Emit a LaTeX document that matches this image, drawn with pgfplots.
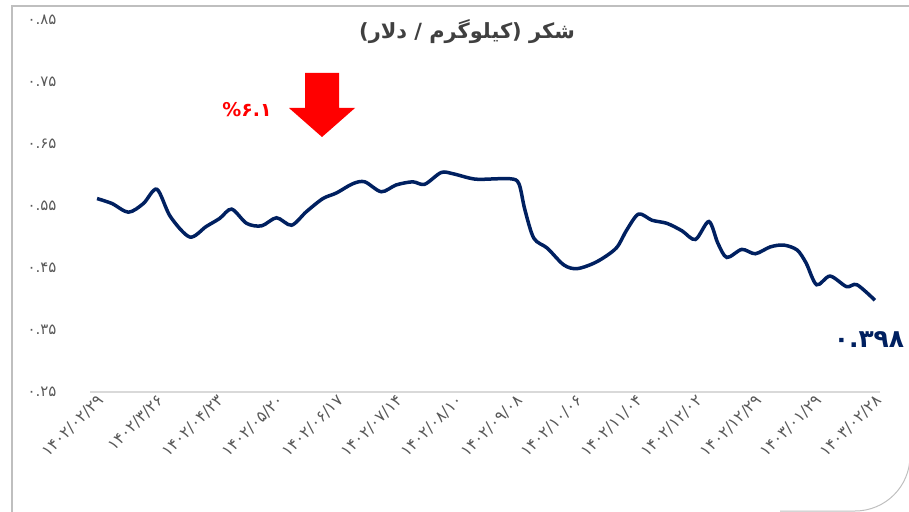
\documentclass[border=0pt]{standalone}
\usepackage{pgfplots}
\pgfplotsset{compat=1.18}
\usepackage{fontspec}
\setmainfont{DejaVu Sans}
\newfontfamily\arabicfont[Script=Arabic]{DejaVu Sans}
\TeXXeTstate=1
\definecolor{navy}{HTML}{002060}
\definecolor{lblgray}{HTML}{595959}
\definecolor{titlegray}{HTML}{404040}
\definecolor{framegray}{HTML}{BFBFBF}
\definecolor{axisgray}{HTML}{D9D9D9}

\begin{document}
\begin{tikzpicture}
\begin{scope}[x=1bp,y=-1bp]
  \useasboundingbox (0,0) rectangle (909,512);
  \begin{scope}
    \clip (0,0) rectangle (909,512);
    \draw[framegray, line width=1.5bp] (12,530) -- (12,6) -- (925,6);
    \draw[framegray, line width=1bp] (910,400) -- (910,456)
      .. controls (910,486.4) and (885.4,511) .. (855,511) -- (780,511);
  \end{scope}
  % title
  \node[font=\arabicfont\bfseries\fontsize{21}{22}\selectfont, text=titlegray]
    at (467,32) {\beginR شکر (کیلوگرم / دلار)\endR};
  % change annotation
  \fill[red] (305,73) -- (339,73) -- (339,108) -- (355,108) -- (322,137)
    -- (289,108) -- (305,108) -- cycle;
  \node[text=red, font=\bfseries\fontsize{19}{19}\selectfont] at (247,110) {\%۶.۱};
  \node[text=navy, font=\bfseries\fontsize{25}{25}\selectfont] at (869,340) {۰.۳۹۸};
\end{scope}

\begin{axis}[
  at={(90bp,-392bp)}, anchor=south west,
  scale only axis, width=790bp, height=372bp,
  xmin=-0.47, xmax=52.34, ymin=0.25, ymax=0.85,
  axis x line*=bottom, axis y line*=left,
  y axis line style={draw=none},
  x axis line style={axisgray, line width=1.2bp},
  major tick length=0pt,
  xtick={0,4,...,52},
  xticklabels={۱۴۰۲/۰۲/۲۹, ۱۴۰۲/۳/۲۶, ۱۴۰۲/۰۴/۲۳, ۱۴۰۲/۰۵/۲۰, ۱۴۰۲/۰۶/۱۷,
    ۱۴۰۲/۰۷/۱۴, ۱۴۰۲/۰۸/۱۰, ۱۴۰۲/۰۹/۰۸, ۱۴۰۲/۱۰/۰۶, ۱۴۰۲/۱۱/۰۴,
    ۱۴۰۲/۱۲/۰۲, ۱۴۰۲/۱۲/۲۹, ۱۴۰۳/۰۱/۲۹, ۱۴۰۳/۰۲/۲۸},
  ytick={0.25,0.35,0.45,0.55,0.65,0.75,0.85},
  yticklabels={۰.۲۵, ۰.۳۵, ۰.۴۵, ۰.۵۵, ۰.۶۵, ۰.۷۵, ۰.۸۵},
  ticklabel style={text=lblgray},
  yticklabel style={font=\fontsize{15}{15}\selectfont, anchor=east, xshift=-30bp},
  xticklabel style={font=\fontsize{16}{16}\selectfont, rotate=45, anchor=east,
    inner sep=1bp, yshift=-7bp},
  clip=false,
]
\addplot[navy, line width=3.5bp, smooth, tension=0.5] coordinates {
  (0,0.562) (1.0,0.554) (2.1,0.540) (3.1,0.554) (4.0,0.577) (4.9,0.533)
  (6.2,0.500) (7.3,0.517) (8.2,0.530) (9.0,0.545) (10.0,0.522) (11.0,0.518)
  (12.0,0.531) (13.0,0.519) (14.0,0.541) (15.1,0.562) (16.0,0.571) (17.1,0.586)
  (17.9,0.589) (19.0,0.573) (20.0,0.584) (21.1,0.589) (21.9,0.585) (23.0,0.604)
  (23.8,0.602) (24.9,0.595) (25.6,0.593) (27.6,0.594) (28.2,0.586) (28.6,0.544)
  (29.2,0.498) (30.1,0.482) (31.2,0.455) (32.1,0.449) (33.4,0.460) (34.7,0.482)
  (35.4,0.511) (36.2,0.537) (37.1,0.527) (38.1,0.522) (39.1,0.510) (40.0,0.496)
  (40.9,0.525) (41.5,0.490) (42.1,0.467) (43.1,0.480) (44.0,0.473) (45.0,0.484)
  (45.9,0.487) (46.8,0.479) (47.4,0.458) (48.1,0.423) (49.0,0.437) (50.1,0.420)
  (50.8,0.423) (52.0,0.398)
};
\end{axis}
\end{tikzpicture}
\end{document}
